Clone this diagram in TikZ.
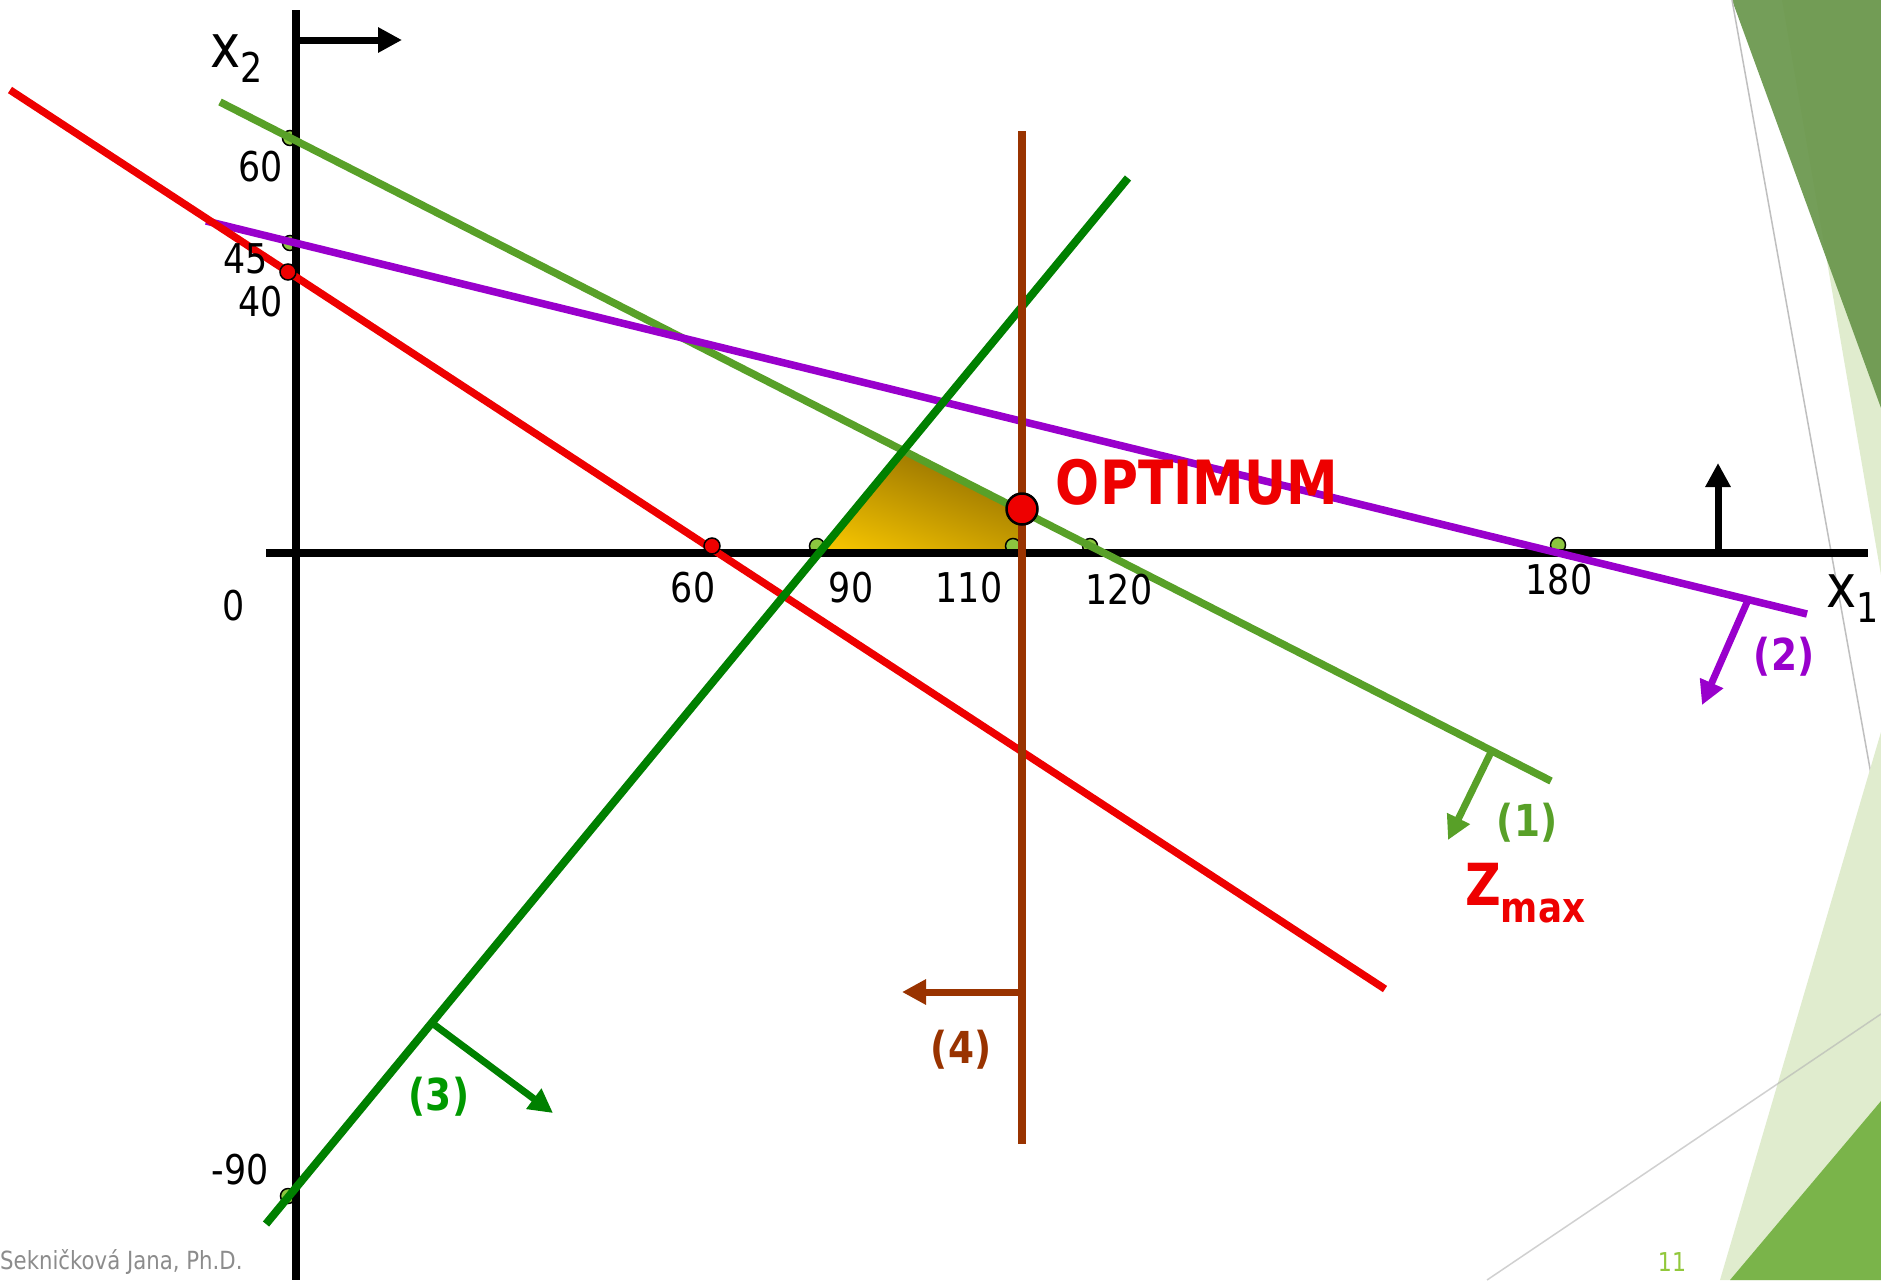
\documentclass[tikz,border=0pt]{standalone}
\usepackage{fontspec}
\newfontfamily\tah[FakeStretch=0.85]{DejaVu Sans}
\usetikzlibrary{arrows.meta}
\definecolor{lgr}{RGB}{88,160,40}
\definecolor{dotgr}{RGB}{140,198,63}
\definecolor{purp}{RGB}{153,0,204}
\definecolor{zred}{RGB}{238,0,0}
\definecolor{dgr}{RGB}{0,128,0}
\definecolor{tgr}{RGB}{0,153,0}
\definecolor{brn}{RGB}{153,51,0}
\definecolor{gold}{RGB}{252,202,0}
\definecolor{dkgold}{RGB}{155,118,0}
\definecolor{pale}{RGB}{224,236,206}
\definecolor{dkdeco}{RGB}{105,150,75}
\definecolor{brdeco}{RGB}{122,180,74}
\definecolor{foot}{RGB}{140,140,140}
\definecolor{pgnum}{RGB}{146,200,60}
\pgfdeclareverticalshading{goldsh}{100bp}{color(0bp)=(gold); color(36bp)=(gold); color(58bp)=(dkgold); color(100bp)=(dkgold)}
\tikzset{
  axisline/.style={line width=7.5pt, black},
  cline/.style={line width=7.5pt},
  tipA/.style={-{Triangle[length=24pt,width=24pt]}, line width=7pt},
  gdot/.style={circle, fill=dotgr, draw=black, line width=1.5pt, minimum size=15pt, inner sep=0pt},
  rdot/.style={circle, fill=zred, draw=black, line width=1.5pt, minimum size=16pt, inner sep=0pt},
  bigdot/.style={circle, fill=zred, draw=black, line width=2.5pt, minimum size=31pt, inner sep=0pt},
  num/.style={font=\tah\fontsize{41}{41}\selectfont, inner sep=0pt, text=black},
  lab/.style={font=\tah\bfseries\fontsize{44}{44}\selectfont, inner sep=0pt},
}
\begin{document}
\begin{tikzpicture}[x=1pt,y=-1pt]
\fill[white] (0,0) rectangle (1881,1280);
\useasboundingbox (0,0) rectangle (1881,1280);
% decoration
\fill[pale] (1782,0) -- (1881,0) -- (1881,575) -- cycle;
\fill[dkdeco, opacity=0.92] (1732,0) -- (1881,0) -- (1881,408) -- cycle;
\draw[black!25, line width=1.5pt] (1732,0) -- (1881,830);
\fill[pale] (1881,732) -- (1720,1280) -- (1881,1280) -- cycle;
\fill[brdeco] (1881,1101) -- (1730,1280) -- (1881,1280) -- cycle;
\draw[black!30, opacity=0.6, line width=1.5pt] (1487,1280) -- (1881,1014);
% feasible region (diagonal gradient)
\begin{scope}
\clip (822,549) -- (903,451) -- (1022,511) -- (1022,549) -- cycle;
\shade[shading=goldsh, shading angle=-20] (772,350) rectangle (1072,650);
\end{scope}
% green dots (behind axes and lines)
\node[gdot] (g60) at (290,138) {};
\node[gdot] (g45) at (290,243) {};
\node[gdot] (g90) at (817,546) {};
\node[gdot] (g110) at (1013,546) {};
\node[gdot] (g120) at (1090,546) {};
\node[gdot] (g180) at (1558,545) {};
\node[gdot] (gm90) at (288,1196) {};
% axes
\coordinate (xa) at (266,553); \coordinate (xb) at (1868,553);
\coordinate (ya) at (296,10); \coordinate (yb) at (296,1280);
\draw[axisline] (xa) -- (xb);
\draw[axisline] (ya) -- (yb);
\coordinate (ta) at (296,40); \coordinate (tb) at (402,40);
\draw[tipA, black] (ta) -- (tb);
\coordinate (ua) at (1718,553); \coordinate (ub) at (1718,463);
\draw[tipA, black] (ua) -- (ub);
% constraint lines
\coordinate (L1a) at (220,102); \coordinate (L1b) at (1551,781);
\coordinate (L2a) at (206,221); \coordinate (L2b) at (1807,614);
\coordinate (Za) at (10,90); \coordinate (Zb) at (1385,989);
\coordinate (L3a) at (266,1224); \coordinate (L3b) at (1128,178);
\coordinate (L4a) at (1022,131); \coordinate (L4b) at (1022,1144);
\draw[cline, lgr] (L1a) -- (L1b);
\draw[cline, purp] (L2a) -- (L2b);
\draw[cline, zred] (Za) -- (Zb);
\draw[cline, dgr, line width=8pt] (L3a) -- (L3b);
\draw[cline, brn] (L4a) -- (L4b);
% direction arrows
\coordinate (A1a) at (1492,750); \coordinate (A1b) at (1448,840);
\coordinate (A2a) at (1748,600); \coordinate (A2b) at (1702,705);
\coordinate (A3a) at (432,1023); \coordinate (A3b) at (553,1113);
\coordinate (A4a) at (1022,992); \coordinate (A4b) at (902,992);
\draw[tipA, lgr] (A1a) -- (A1b);
\draw[tipA, purp] (A2a) -- (A2b);
\draw[tipA, dgr] (A3a) -- (A3b);
\draw[tipA, brn] (A4a) -- (A4b);
% red dots
\node[rdot] (r40) at (288,272) {};
\node[rdot] (r60) at (712,546) {};
\node[bigdot] (opt) at (1022,509) {};
% axis labels
\node[anchor=base west, inner sep=0pt, font=\tah\fontsize{60}{60}\selectfont] (x2) at (210,67) {x\raisebox{-15pt}{\fontsize{41}{41}\selectfont 2}};
\node[anchor=base west, inner sep=0pt, font=\tah\fontsize{60}{60}\selectfont] (x1) at (1826,607) {x\raisebox{-15pt}{\fontsize{41}{41}\selectfont 1}};
% numbers
\node[num] (n60y) at (261,167) {60};
\node[num] (n45) at (246,259) {45};
\node[num] (n40) at (261,302) {40};
\node[num] (n0) at (234,606) {0};
\node[num] (nm90) at (240,1170) {-90};
\node[num] (n60x) at (693,588) {60};
\node[num] (n90) at (851,588) {90};
\node[num] (n110) at (969,588) {110};
\node[num] (n120) at (1119,590) {120};
\node[num] (n180) at (1559,580) {180};
% labels
\node[inner sep=0pt, text=zred, font=\tah\bfseries\fontsize{61}{61}\selectfont] (optl) at (1197,482) {OPTIMUM};
\node[anchor=base west, inner sep=0pt, text=zred, font=\tah\bfseries\fontsize{58}{58}\selectfont] (zmax) at (1465,905) {Z\raisebox{-17pt}{\fontsize{42}{42}\selectfont max}};
\node[lab, text=lgr] (l1) at (1527,823) {(1)};
\node[lab, text=purp] (l2) at (1784,657) {(2)};
\node[lab, text=tgr] (l3) at (439,1097) {(3)};
\node[lab, text=brn] (l4) at (961,1050) {(4)};
% footer
\node[anchor=west, inner sep=0pt, text=foot, font=\tah\fontsize{25}{25}\selectfont] (foot) at (0,1262) {Sekničková Jana, Ph.D.};
\node[inner sep=0pt, text=pgnum, font=\tah\fontsize{26}{26}\selectfont] (pg) at (1672,1262) {11};
\end{tikzpicture}
\end{document}
